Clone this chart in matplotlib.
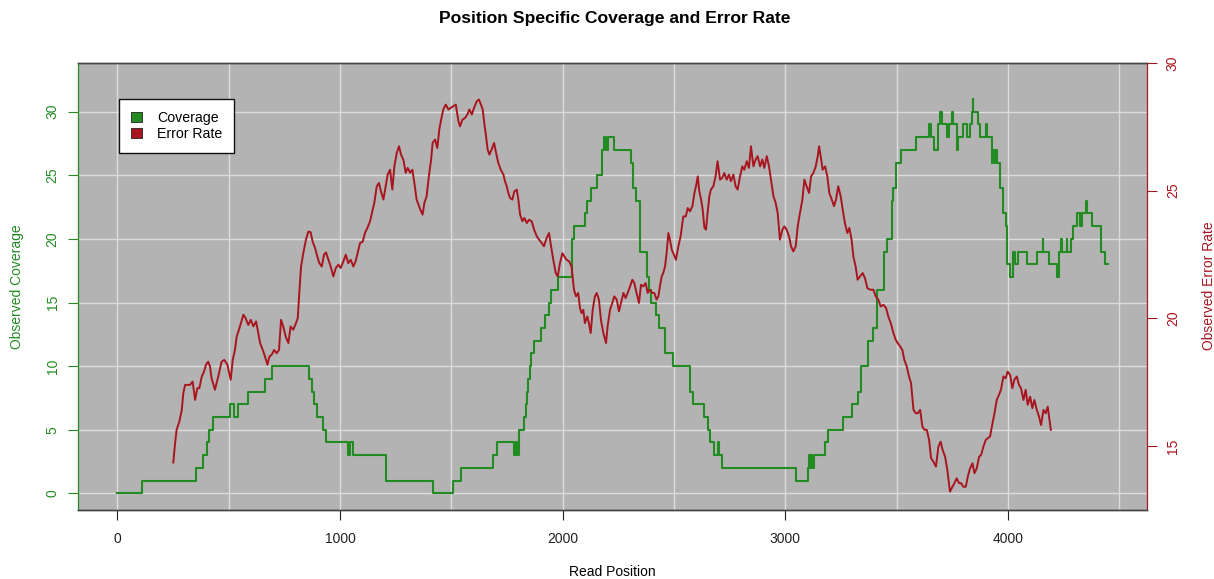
import matplotlib
matplotlib.use("Agg")
import matplotlib.pyplot as plt
from matplotlib.patches import Patch

plt.rcParams['font.family'] = ['Liberation Sans', 'DejaVu Sans']

# ---------------- data ----------------
cov_x = [0, 112, 352, 386, 404, 413, 431, 506, 525, 543, 588, 663, 693, 862, 875, 885,
         895, 913, 925, 935, 1037, 1045, 1060, 1207, 1419, 1506, 1544, 1689, 1707, 1782,
         1790, 1795, 1806, 1828, 1835, 1840, 1846, 1853, 1860, 1872, 1901, 1920, 1940, 1948,
         1978, 2044, 2052, 2100, 2108, 2126, 2153, 2178, 2187, 2195, 2202, 2232, 2307, 2318,
         2330, 2346, 2378, 2389, 2395, 2419, 2434, 2460, 2494, 2572, 2587, 2637, 2651, 2662,
         2681, 2700, 2704, 2714, 3048, 3101, 3107, 3111, 3115, 3119, 3131, 3179, 3194, 3261,
         3298, 3328, 3339, 3373, 3393, 3414, 3444, 3456, 3478, 3486, 3496, 3519, 3586, 3647,
         3655, 3668, 3685, 3695, 3703, 3728, 3737, 3748, 3752, 3770, 3778, 3800, 3818, 3830,
         3838, 3842, 3845, 3868, 3875, 3904, 3908, 3927, 3933, 3940, 3946, 3952, 3965, 3980,
         3990, 3998, 4010, 4025, 4032, 4047, 4085, 4130, 4156, 4159, 4186, 4222, 4230, 4238,
         4241, 4264, 4267, 4282, 4294, 4309, 4324, 4332, 4351, 4354, 4377, 4417, 4437, 4452]
cov_y = [0, 1, 2, 3, 4, 5, 6, 7, 6, 7, 8, 9, 10, 9, 8, 7,
         6, 6, 5, 4, 3, 4, 3, 1, 0, 1, 2, 3, 4, 3,
         4, 3, 5, 6, 7, 8, 9, 10, 11, 12, 13, 14, 15, 16,
         17, 20, 21, 22, 23, 24, 25, 27, 28, 27, 28, 27, 26, 24,
         23, 19, 17, 16, 15, 14, 13, 11, 10, 8, 7, 6, 5, 4,
         3, 4, 3, 2, 1, 2, 3, 2, 3, 2, 3, 4, 5, 6,
         7, 8, 10, 12, 13, 16, 19, 20, 23, 24, 26, 27, 28, 29,
         28, 27, 29, 30, 29, 28, 29, 30, 29, 27, 28, 29, 28, 29,
         30, 31, 30, 29, 28, 29, 28, 26, 27, 26, 27, 26, 24, 22,
         21, 18, 17, 19, 18, 19, 18, 19, 20, 19, 18, 17, 19, 20,
         19, 20, 19, 20, 21, 22, 21, 22, 23, 22, 21, 19, 18, 18]

err_x = [251, 259, 266, 278, 289, 296, 304, 326, 338, 349, 359, 368, 379, 389, 398, 408,
         416, 423, 438, 453, 468, 480, 494, 509, 518, 528, 536, 546, 555, 566, 576, 588,
         599, 611, 623, 633, 641, 653, 663, 674, 683, 693, 704, 715, 726, 735, 745, 756,
         768, 778, 790, 802, 810, 817, 825, 835, 847, 858, 868, 877, 888, 898, 907, 918,
         928, 937, 948, 958, 970, 981, 993, 1003, 1015, 1026, 1037, 1048, 1060, 1070, 1079,
         1090, 1102, 1112, 1123, 1135, 1145, 1154, 1165, 1175, 1184, 1195, 1205, 1214, 1225,
         1235, 1244, 1255, 1265, 1274, 1285, 1295, 1304, 1315, 1325, 1334, 1344, 1355, 1364,
         1371, 1379, 1389, 1400, 1409, 1416, 1427, 1437, 1446, 1454, 1464, 1475, 1487, 1497,
         1509, 1520, 1532, 1539, 1550, 1562, 1572, 1581, 1592, 1602, 1614, 1624, 1633, 1641,
         1648, 1656, 1663, 1671, 1681, 1692, 1701, 1711, 1722, 1734, 1741, 1749, 1756, 1764,
         1774, 1783, 1794, 1801, 1809, 1819, 1828, 1839, 1849, 1861, 1872, 1884, 1894, 1906,
         1916, 1928, 1939, 1948, 1958, 1969, 1978, 1988, 1999, 2008, 2018, 2029,
         2040, 2051, 2060, 2070, 2078, 2085, 2093, 2100, 2111, 2118, 2126, 2135, 2145, 2153,
         2163, 2172, 2183, 2195, 2202, 2213, 2223, 2232, 2243, 2253, 2262, 2273, 2283, 2292,
         2303, 2313, 2322, 2332, 2343, 2352, 2362, 2373, 2382, 2392, 2403, 2412, 2422, 2430,
         2437, 2445, 2452, 2460, 2467, 2475, 2482, 2490, 2500, 2509, 2520, 2530, 2542, 2553,
         2562, 2572, 2583, 2592, 2599, 2607, 2614, 2622, 2629, 2637, 2644, 2651, 2659, 2666,
         2677, 2687, 2696, 2707, 2717, 2726, 2737, 2747, 2756, 2767, 2777, 2786, 2797, 2807,
         2816, 2827, 2837, 2846, 2857, 2867, 2876, 2887, 2897, 2906, 2917, 2927, 2936, 2947,
         2957, 2966, 2976, 2987, 2996, 3006, 3017, 3026, 3036, 3047, 3056, 3066, 3077, 3086,
         3096, 3107, 3116, 3126, 3137, 3146, 3152, 3159, 3168, 3179, 3189, 3198, 3209, 3219,
         3228, 3238, 3249, 3258, 3268, 3279, 3288, 3298, 3306, 3316, 3325,
         3336, 3348, 3358, 3369, 3381, 3396, 3406, 3418, 3429, 3441, 3453, 3463, 3474, 3486,
         3496, 3505, 3516, 3526, 3535, 3546, 3556, 3565, 3576, 3586, 3595, 3606, 3616, 3625,
         3636, 3646, 3655, 3665, 3677, 3688, 3698, 3707, 3718, 3728, 3740, 3751, 3760, 3770,
         3781, 3790, 3800, 3811, 3820, 3830, 3841, 3850, 3860, 3871, 3880, 3890, 3901, 3910,
         3920, 3931, 3940, 3950, 3960, 3969, 3980, 3990, 3999, 4010, 4020, 4029, 4040, 4050,
         4059, 4070, 4080, 4089, 4100, 4110, 4119, 4130, 4140, 4149, 4160, 4170, 4179, 4187,
         4193]
err_y = [14.35, 15.1, 15.63, 15.95, 16.4, 17.06, 17.39, 17.39, 17.52, 16.8, 17.26, 17.26,
         17.72, 17.91, 18.18, 18.3, 18.11, 17.65, 17.2, 17.72, 18.3, 18.37, 18.18, 17.59,
         18.37, 18.76, 19.29, 19.55, 19.81, 20.14, 20.0, 19.74, 19.94, 19.68, 19.88, 19.42,
         19.03, 18.76, 18.5, 18.18, 18.5, 18.57, 18.76, 18.63, 18.76, 19.94, 19.68, 19.29,
         19.03, 19.68, 19.55, 19.81, 20.0, 20.99, 22.03, 22.55, 23.08, 23.4, 23.37, 23.0,
         22.75, 22.42, 22.16, 22.03, 22.49, 22.58, 22.29, 22.03, 21.64, 21.97, 22.1, 21.97,
         22.23, 22.49, 22.16, 22.29, 22.03, 22.23, 22.55, 22.95, 23.0, 23.34, 23.54, 23.8,
         24.19, 24.52, 25.17, 25.3, 24.97, 24.65, 25.17, 25.63, 25.82, 25.04, 25.95, 26.48,
         26.74, 26.41, 26.2, 25.7, 25.89, 25.7, 25.82, 25.3, 24.65, 24.39, 24.19, 24.06,
         24.52, 24.78, 25.63, 26.2, 26.87, 27.0, 26.67, 27.39, 27.78, 28.18, 28.37, 28.18,
         28.24, 28.31, 28.37, 27.72, 27.52, 27.78, 27.85, 27.98, 28.18, 27.98, 28.24, 28.5,
         28.57, 28.37, 28.18, 27.65, 27.13, 26.61, 26.41, 26.61, 26.87, 26.48, 26.08, 25.82,
         25.63, 25.37, 25.17, 24.91, 24.71, 24.65, 24.97, 25.04, 24.65, 24.06, 23.8, 23.93,
         23.73, 23.86, 23.8, 23.47, 23.21, 23.08, 22.95, 22.82, 23.14, 23.34, 22.82, 22.29,
         21.77, 21.64, 22.16, 22.55, 22.42, 22.29, 22.23,
         22.03, 21.12, 20.86, 20.99, 20.4, 20.2, 20.33, 19.81, 20.07, 19.81, 19.42, 20.33,
         20.86, 20.99, 20.73, 19.94, 19.42, 19.03, 19.68, 20.33, 20.6, 20.86, 20.73, 20.27,
         20.6, 20.99, 20.79, 20.99, 21.25, 21.51, 21.38, 20.99, 20.6, 21.31, 21.25, 21.38,
         20.99, 21.12, 20.99, 20.99, 20.73, 20.86, 21.25, 21.64, 21.77, 22.03, 22.55, 23.34,
         23.08, 22.69, 22.49, 22.29, 22.82, 23.21, 23.99, 23.99, 24.32, 24.19, 24.39, 24.91,
         25.17, 25.56, 24.97, 24.65, 24.26, 23.54, 23.47, 24.12, 24.78, 25.04, 25.17, 25.56,
         26.15, 25.43, 25.5, 25.69, 25.43, 25.63, 25.37, 25.63, 25.17, 25.04, 25.56, 25.95,
         25.82, 26.15, 25.89, 26.74, 25.95, 26.22, 26.35, 25.95, 26.22, 25.89, 26.35, 25.95,
         25.43, 24.78, 24.52, 24.12, 23.08, 23.47, 23.6, 23.47, 23.21, 22.82, 22.62, 22.82,
         23.6, 24.12, 24.65, 25.43, 25.17, 24.91, 25.56, 25.69, 25.95, 26.35, 26.74, 26.35,
         25.82, 25.95, 25.56, 24.91, 24.65, 24.39, 24.65, 25.17, 24.78, 24.26, 23.73, 23.34,
         23.54, 23.08, 22.42, 22.03, 21.51,
         21.64, 21.77, 21.57, 21.18, 21.12, 21.12, 20.86, 20.73, 20.46, 20.53, 20.4, 20.07,
         19.81, 19.42, 19.16, 19.03, 18.9, 18.76, 18.37, 18.11, 17.72, 17.46, 16.41, 16.28,
         16.28, 16.41, 15.76, 15.63, 15.63, 15.24, 14.52, 14.39, 14.19, 14.97, 15.17, 14.84,
         14.58, 14.06, 13.21, 13.4, 13.54, 13.73, 13.54, 13.54, 13.4, 13.4, 13.8, 14.12,
         14.32, 13.93, 14.12, 14.58, 14.65, 14.97, 15.24, 15.3, 15.37, 15.89, 16.28, 16.8,
         17.0, 17.2, 17.72, 17.65, 17.91, 17.78, 17.26, 17.59, 17.72, 17.39, 17.26, 16.8,
         17.2, 16.61, 16.93, 16.48, 16.8, 16.41, 16.15, 15.82, 16.41, 16.28, 16.54, 16.02,
         15.63]

x_ticks = [0, 1000, 2000, 3000, 4000]
cov_ticks = [0, 5, 10, 15, 20, 25, 30]
err_ticks = [15, 20, 25, 30]

GREEN = '#228B22'
RED = '#A8151F'

# ---------------- figure ----------------
W, H = 1214, 579
fig = plt.figure(figsize=(W / 100, H / 100), dpi=100)
L, R, T, B = 78, 1147, 63, 510
ax = fig.add_axes([L / W, 1 - B / H, (R - L) / W, (B - T) / H])
ax.set_facecolor('#B3B3B3')

ax.set_xlim(-177, 4625)
ax.set_ylim(-1.31, 33.83)
ax.set_xticks(range(0, 4501, 500), minor=True)
ax.set_xticks(x_ticks)
ax.set_yticks(cov_ticks)
ax.grid(True, which='both', axis='x', color='#DCDCDC', lw=1.0)
ax.grid(True, which='major', axis='y', color='#DCDCDC', lw=1.0)
ax.set_axisbelow(True)
ax.tick_params(axis='x', which='minor', length=0)
ax.tick_params(axis='x', which='major', length=7, width=0.8, pad=9, labelsize=10, colors='#222222')
ax.tick_params(axis='y', length=7, width=0.8, pad=6.3, labelsize=10, colors=GREEN, labelrotation=90)
for lab in ax.get_yticklabels():
    lab.set_va('center')

ax.step(cov_x, cov_y, where='post', color=GREEN, lw=1.5, zorder=3)

ax2 = ax.twinx()
ax2.set_ylim(12.49, 30.0)
ax2.set_yticks(err_ticks)
ax2.tick_params(axis='y', length=7, width=0.8, pad=6.5, labelsize=10, colors=RED, labelrotation=90)
for lab in ax2.get_yticklabels():
    lab.set_va('center')
ax2.plot(err_x, err_y, color=RED, lw=1.4, zorder=3)

for a in (ax, ax2):
    for s in ('top', 'bottom'):
        a.spines[s].set_color('#444444')
        a.spines[s].set_linewidth(1.0)
ax.spines['left'].set_color(GREEN)
ax.spines['right'].set_color('#444444')
ax2.spines['right'].set_color(RED)
ax2.spines['left'].set_color(GREEN)

handles = [Patch(facecolor=GREEN, edgecolor='#222222', lw=0.6),
           Patch(facecolor=RED, edgecolor='#222222', lw=0.6)]
leg = ax2.legend(handles, ['Coverage', 'Error Rate'], loc='upper left',
                 bbox_to_anchor=((119 - L) / (R - L), (B - 99) / (B - T)),
                 borderaxespad=0, fancybox=False, framealpha=1, edgecolor='#111111',
                 fontsize=10.2, handlelength=0.77, handleheight=0.72, handletextpad=1.1,
                 labelspacing=0.16, borderpad=0.82)
leg.get_frame().set_linewidth(1.0)

fig.text(615 / W, 1 - 18 / H, 'Position Specific Coverage and Error Rate',
         ha='center', va='center', fontsize=12.6, fontweight='bold')
fig.text(612.5 / W, 1 - 572 / H, 'Read Position', ha='center', va='center', fontsize=10)
fig.text(17 / W, 1 - 287 / H, 'Observed Coverage', ha='center', va='center',
         rotation=90, fontsize=10, color=GREEN)
fig.text(1202 / W, 1 - 286 / H, 'Observed Error Rate', ha='left', va='center',
         rotation=90, fontsize=10, color=RED)

fig.savefig('out.png', dpi=100)
